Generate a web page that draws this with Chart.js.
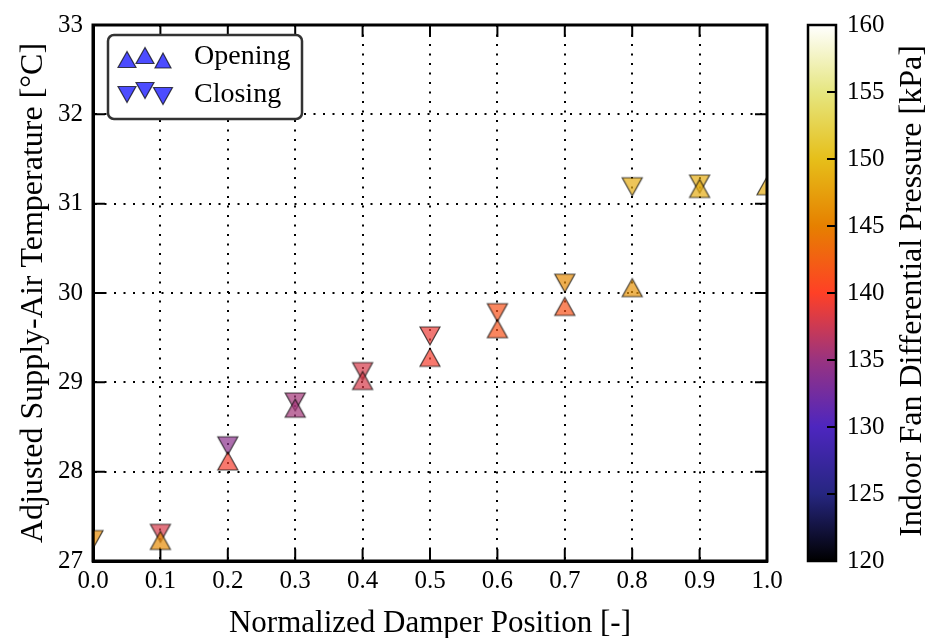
<!DOCTYPE html>
<html>
<head>
<meta charset="utf-8">
<script src="https://cdn.jsdelivr.net/npm/chart.js@4.4.1/dist/chart.umd.min.js"></script>
<style>
  html, body { margin: 0; padding: 0; background: #fff; }
  canvas { display: block; }
</style>
</head>
<body>
<canvas id="chart" width="930" height="638" style="width:930px;height:638px"></canvas>
<script>
// damper position / temperature / fan pressure
const openingPosition = [0.1, 0.2, 0.3, 0.4, 0.5, 0.6, 0.7, 0.8, 0.9, 1.0];
const openingTemp     = [27.23, 28.12, 28.71, 29.02, 29.28, 29.60, 29.85, 30.06, 31.17, 31.20];
const openingPressure = [146, 139.5, 135.5, 138, 139.5, 141.5, 141.5, 146.5, 148.5, 148.5];

const closingPosition = [0.0, 0.1, 0.2, 0.3, 0.4, 0.5, 0.6, 0.7, 0.8, 0.9];
const closingTemp     = [27.24, 27.31, 28.29, 28.78, 29.12, 29.52, 29.78, 30.11, 31.19, 31.22];
const closingPressure = [146, 138, 134, 135.5, 138, 139, 141.5, 146, 148.5, 148.5];

const xTicks = [0, 0.1, 0.2, 0.3, 0.4, 0.5, 0.6, 0.7, 0.8, 0.9, 1.0];
const yTicks = [27, 28, 29, 30, 31, 32, 33];
const cbarTicks = [120, 125, 130, 135, 140, 145, 150, 155, 160];
const cbarMin = 120, cbarMax = 160;

const FONT = "'Liberation Serif', 'DejaVu Serif', serif";
const ALPHA = 0.7;

// CMRmap colormap nodes (matplotlib)
const cmr = [
  [0.000, 0.00, 0.00, 0.00],
  [0.125, 0.15, 0.15, 0.50],
  [0.250, 0.30, 0.15, 0.75],
  [0.375, 0.60, 0.20, 0.50],
  [0.500, 1.00, 0.25, 0.15],
  [0.625, 0.90, 0.50, 0.00],
  [0.750, 0.90, 0.75, 0.10],
  [0.875, 0.90, 0.90, 0.50],
  [1.000, 1.00, 1.00, 1.00]
];

function cmap(v) {
  let t = (v - cbarMin) / (cbarMax - cbarMin);
  t = Math.max(0, Math.min(1, t));
  for (let i = 1; i < cmr.length; i++) {
    if (t <= cmr[i][0]) {
      const a = cmr[i - 1], b = cmr[i];
      const f = (t - a[0]) / (b[0] - a[0]);
      return [1, 2, 3].map(k => Math.round(255 * (a[k] + f * (b[k] - a[k]))));
    }
  }
  return [255, 255, 255];
}

// matplotlib-like triangle marker
function triangle(ctx, cx, cy, w, h, down, fill) {
  ctx.beginPath();
  if (down) {
    ctx.moveTo(cx, cy + h / 2);
    ctx.lineTo(cx - w / 2, cy - h / 2);
    ctx.lineTo(cx + w / 2, cy - h / 2);
  } else {
    ctx.moveTo(cx, cy - h / 2);
    ctx.lineTo(cx - w / 2, cy + h / 2);
    ctx.lineTo(cx + w / 2, cy + h / 2);
  }
  ctx.closePath();
  ctx.fillStyle = fill;
  ctx.fill();
  ctx.lineWidth = 1.2;
  ctx.strokeStyle = 'rgba(0,0,0,' + ALPHA + ')';
  ctx.stroke();
}

function marker(rgb, down) {
  const c = document.createElement('canvas');
  c.width = 26; c.height = 26;
  const g = c.getContext('2d');
  triangle(g, 13, 13, 20, 18, down, 'rgba(' + rgb.join(',') + ',' + ALPHA + ')');
  return c;
}

const framePlugin = {
  id: 'frame',
  afterDraw(chart) {
    const { ctx, chartArea: a, scales: { x, y } } = chart;
    ctx.save();
    ctx.strokeStyle = '#000';
    ctx.lineWidth = 2;
    ctx.beginPath();
    xTicks.forEach(v => {
      const px = x.getPixelForValue(v);
      ctx.moveTo(px, a.bottom); ctx.lineTo(px, a.bottom - 12);
      ctx.moveTo(px, a.top); ctx.lineTo(px, a.top + 12);
    });
    yTicks.forEach(v => {
      const py = y.getPixelForValue(v);
      ctx.moveTo(a.left, py); ctx.lineTo(a.left + 12, py);
      ctx.moveTo(a.right, py); ctx.lineTo(a.right - 12, py);
    });
    ctx.stroke();
    ctx.lineWidth = 3;
    ctx.strokeRect(a.left, a.top, a.right - a.left, a.bottom - a.top);
    ctx.restore();
  }
};

const legendPlugin = {
  id: 'boxLegend',
  afterDraw(chart) {
    const { ctx } = chart;
    ctx.save();
    const bx = 108, by = 35, bw = 194, bh = 84, r = 6;
    ctx.beginPath();
    ctx.roundRect(bx, by, bw, bh, r);
    ctx.fillStyle = '#fff';
    ctx.fill();
    ctx.lineWidth = 2.5;
    ctx.strokeStyle = '#333';
    ctx.stroke();
    const blue = 'rgba(0,0,255,' + ALPHA + ')';
    // scatterpoints with matplotlib's jittered offsets
    triangle(ctx, 127, 59.5, 18, 16, false, blue);
    triangle(ctx, 145, 55.5, 18, 16, false, blue);
    triangle(ctx, 163, 60.5, 16, 15, false, blue);
    triangle(ctx, 127, 94.5, 18, 16, true, blue);
    triangle(ctx, 145, 90.5, 18, 16, true, blue);
    triangle(ctx, 163, 96, 19, 17, true, blue);
    ctx.fillStyle = '#000';
    ctx.font = '28px ' + FONT;
    ctx.textBaseline = 'middle';
    ctx.textAlign = 'left';
    ctx.fillText(chart.data.datasets[0].label, 194, 57);
    ctx.fillText(chart.data.datasets[1].label, 194, 95);
    ctx.restore();
  }
};

const colorbarPlugin = {
  id: 'colorbar',
  afterDraw(chart) {
    const { ctx, chartArea: a } = chart;
    const left = 808, right = 836, top = a.top, bottom = a.bottom;
    ctx.save();
    const grad = ctx.createLinearGradient(0, bottom, 0, top);
    cmr.forEach(n => grad.addColorStop(n[0], 'rgb(' + [n[1], n[2], n[3]].map(c => Math.round(c * 255)).join(',') + ')'));
    ctx.fillStyle = grad;
    ctx.fillRect(left, top, right - left, bottom - top);
    ctx.strokeStyle = '#000';
    ctx.lineWidth = 2;
    ctx.beginPath();
    ctx.font = '25px ' + FONT;
    ctx.fillStyle = '#000';
    ctx.textAlign = 'left';
    ctx.textBaseline = 'middle';
    cbarTicks.forEach(v => {
      const py = bottom - (v - cbarMin) / (cbarMax - cbarMin) * (bottom - top);
      ctx.moveTo(right, py); ctx.lineTo(right - 9, py);
      ctx.fillText(String(v), right + 11, py);
    });
    ctx.stroke();
    ctx.lineWidth = 2.5;
    ctx.strokeRect(left, top, right - left, bottom - top);
    ctx.translate(913, (top + bottom) / 2 - 2);
    ctx.rotate(-Math.PI / 2);
    ctx.textAlign = 'center';
    ctx.font = '32px ' + FONT;
    ctx.fillText('Indoor Fan Differential Pressure [kPa]', 0, 0);
    ctx.restore();
  }
};

const ctx = document.getElementById('chart');

new Chart(ctx, {
  type: 'scatter',
  data: {
    datasets: [
      {
        label: 'Opening',
        data: openingPosition.map((p, i) => ({ x: p, y: openingTemp[i] })),
        pointStyle: openingPressure.map(v => marker(cmap(v), false)),
        pointRadius: 10,
        pointHoverRadius: 10
      },
      {
        label: 'Closing',
        data: closingPosition.map((p, i) => ({ x: p, y: closingTemp[i] })),
        pointStyle: closingPressure.map(v => marker(cmap(v), true)),
        pointRadius: 10,
        pointHoverRadius: 10
      }
    ]
  },
  options: {
    responsive: false,
    animation: false,
    events: [],
    layout: { padding: { left: 0, right: 163, top: 21, bottom: 0 } },
    plugins: {
      legend: { display: false },
      tooltip: { enabled: false }
    },
    scales: {
      x: {
        type: 'linear',
        min: 0,
        max: 1,
        afterBuildTicks: s => { s.ticks = xTicks.map(v => ({ value: v })); },
        afterFit: s => { s.height = 77; },
        ticks: {
          callback: v => v.toFixed(1),
          color: '#000',
          font: { family: FONT, size: 25 },
          padding: 5,
          maxRotation: 0
        },
        grid: { color: '#000', lineWidth: 2, drawTicks: false },
        border: { display: true, color: '#000', width: 3, dash: [2, 7.5] },
        title: {
          display: true,
          text: 'Normalized Damper Position [-]',
          color: '#000',
          font: { family: FONT, size: 31 },
          padding: { top: 8, bottom: -4 }
        }
      },
      y: {
        type: 'linear',
        min: 27,
        max: 33,
        afterBuildTicks: s => { s.ticks = yTicks.map(v => ({ value: v })); },
        afterFit: s => { s.width = 93; },
        ticks: {
          callback: v => String(v),
          color: '#000',
          font: { family: FONT, size: 25 },
          padding: 10
        },
        grid: { color: '#000', lineWidth: 2, drawTicks: false },
        border: { display: true, color: '#000', width: 3, dash: [2, 7.5] },
        title: {
          display: true,
          text: 'Adjusted Supply-Air Temperature [°C]',
          color: '#000',
          font: { family: FONT, size: 32 },
          padding: { top: 14, bottom: 0 }
        }
      }
    }
  },
  plugins: [framePlugin, colorbarPlugin, legendPlugin]
});
</script>
</body>
</html>
